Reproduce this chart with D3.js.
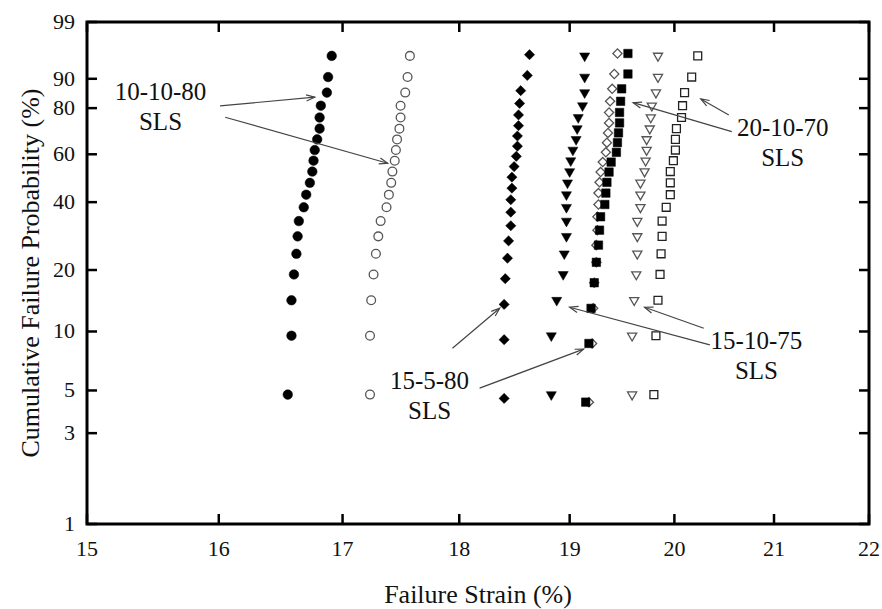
<!DOCTYPE html>
<html>
<head>
<meta charset="utf-8">
<script src="https://cdn.jsdelivr.net/npm/d3@7"></script>
<style>
  body { margin: 0; background: #fff; }
  text { font-family: "Liberation Serif", "Times New Roman", serif; fill: #111; }
</style>
</head>
<body>
<div id="chart"></div>
<script>
// Plotting positions (%) for samples of 20, 21 and 22 specimens
const probs20 = [4.76, 9.52, 14.29, 19.05, 23.81, 28.57, 33.33, 38.10, 42.86, 47.62,
                 52.38, 57.14, 61.90, 66.67, 71.43, 76.19, 80.95, 85.71, 90.48, 95.24];
const probs21 = [4.55, 9.09, 13.64, 18.18, 22.73, 27.27, 31.82, 36.36, 40.91, 45.45, 50.00,
                 54.55, 59.09, 63.64, 68.18, 72.73, 77.27, 81.82, 86.36, 90.91, 95.45];
const probs22 = [4.35, 8.70, 13.04, 17.39, 21.74, 26.09, 30.43, 34.78, 39.13, 43.48, 47.83,
                 52.17, 56.52, 60.87, 65.22, 69.57, 73.91, 78.26, 82.61, 86.96, 91.30, 95.65];

// Failure strain (%) of each specimen, sorted
const strain_10_10_80_a = [16.55, 16.58, 16.58, 16.60, 16.62, 16.63, 16.64, 16.68, 16.70, 16.73,
                           16.75, 16.76, 16.77, 16.79, 16.81, 16.81, 16.82, 16.87, 16.88, 16.91];
const strain_10_10_80_b = [17.23, 17.23, 17.24, 17.26, 17.28, 17.30, 17.32, 17.37, 17.39, 17.41,
                           17.42, 17.44, 17.45, 17.46, 17.48, 17.49, 17.49, 17.53, 17.55, 17.57];
const strain_15_5_80_a  = [18.40, 18.40, 18.40, 18.41, 18.43, 18.44, 18.46, 18.46, 18.46, 18.47, 18.47,
                           18.49, 18.51, 18.52, 18.52, 18.53, 18.53, 18.54, 18.55, 18.61, 18.63];
const strain_15_10_75_a = [18.83, 18.83, 18.88, 18.94, 18.95, 18.97, 18.97, 18.97, 18.97, 18.98,
                           19.00, 19.01, 19.03, 19.06, 19.07, 19.08, 19.12, 19.14, 19.14, 19.14];
const strain_20_10_70_a = [19.15, 19.18, 19.20, 19.23, 19.25, 19.27, 19.28, 19.29, 19.33, 19.34, 19.35,
                           19.37, 19.39, 19.44, 19.45, 19.46, 19.47, 19.47, 19.48, 19.49, 19.55, 19.55];
const strain_15_5_80_b  = [19.18, 19.21, 19.22, 19.23, 19.25, 19.25, 19.26, 19.26, 19.27, 19.27, 19.28,
                           19.29, 19.31, 19.34, 19.35, 19.36, 19.37, 19.37, 19.38, 19.40, 19.42, 19.45];
const strain_15_10_75_b = [19.59, 19.59, 19.61, 19.63, 19.64, 19.64, 19.64, 19.67, 19.67, 19.67,
                           19.71, 19.72, 19.73, 19.73, 19.76, 19.77, 19.78, 19.82, 19.84, 19.84];
const strain_20_10_70_b = [19.80, 19.82, 19.84, 19.86, 19.87, 19.88, 19.88, 19.92, 19.96, 19.96,
                           19.96, 19.99, 20.01, 20.01, 20.02, 20.07, 20.08, 20.10, 20.17, 20.23];

// Axis ticks
const xTicks = [15, 16, 17, 18, 19, 20, 21, 22];
const yTicks = [1, 3, 5, 10, 20, 40, 60, 80, 90, 99];

// Series: strain values, plotting positions, marker
const series = [
    { values: strain_10_10_80_a, probs: probs20, marker: "circle",   filled: true },
    { values: strain_10_10_80_b, probs: probs20, marker: "circle",   filled: false },
    { values: strain_15_5_80_a,  probs: probs21, marker: "diamond",  filled: true },
    { values: strain_15_10_75_a, probs: probs20, marker: "triangle", filled: true },
    { values: strain_15_5_80_b,  probs: probs22, marker: "diamond",  filled: false },
    { values: strain_20_10_70_a, probs: probs22, marker: "square",   filled: true },
    { values: strain_15_10_75_b, probs: probs20, marker: "triangle", filled: false },
    { values: strain_20_10_70_b, probs: probs20, marker: "square",   filled: false }
];

// Annotations in data units: label anchor and arrows [from, to]
const annotations = [
    { label: "10-10-80", at: [15.55, 83.1],
      arrows: [[[16.01, 80.9], [16.77, 84.1]], [[16.05, 76.3], [17.38, 56.0]]] },
    { label: "15-5-80", at: [17.74, 5.09],
      arrows: [[[17.94, 8.23], [18.36, 13.06]], [[18.18, 5.14], [19.13, 8.14]]] },
    { label: "15-10-75", at: [20.82, 8.14],
      arrows: [[[20.29, 10.38], [19.71, 13.21]], [[20.35, 8.56], [19.00, 13.21]]] },
    { label: "20-10-70", at: [21.09, 68.2],
      arrows: [[[20.54, 77.25], [20.26, 83.47]], [[20.57, 70.1], [19.60, 82.1]]] }
];

const width = 882;
const height = 609;
const plot = { left: 87, right: 869, top: 22, bottom: 524 };

const svg = d3.select("#chart")
    .append("svg")
    .attr("width", width)
    .attr("height", height);

svg.append("rect").attr("width", width).attr("height", height).attr("fill", "#fff");

// Weibull probability scale on y, log scale on x
const weib = p => Math.log(-Math.log(1 - p / 100));
const x = d3.scaleLog().domain([15, 22]).range([plot.left, plot.right]);
const yLin = d3.scaleLinear().domain([weib(1), weib(99)]).range([plot.bottom, plot.top]);
const y = p => yLin(weib(p));

// Ticks (inside, on all four sides)
const tickLen = 10;
const ticks = svg.append("g").attr("stroke", "#000").attr("stroke-width", 2.5);
yTicks.forEach(t => {
    ticks.append("line").attr("x1", plot.left).attr("x2", plot.left + tickLen)
        .attr("y1", y(t)).attr("y2", y(t));
    ticks.append("line").attr("x1", plot.right).attr("x2", plot.right - tickLen)
        .attr("y1", y(t)).attr("y2", y(t));
});
xTicks.forEach(t => {
    ticks.append("line").attr("x1", x(t)).attr("x2", x(t))
        .attr("y1", plot.bottom).attr("y2", plot.bottom - tickLen);
    ticks.append("line").attr("x1", x(t)).attr("x2", x(t))
        .attr("y1", plot.top).attr("y2", plot.top + tickLen);
});

// Tick labels
svg.selectAll(".ylab")
    .data(yTicks)
    .join("text")
    .attr("class", "ylab")
    .attr("x", plot.left - 12)
    .attr("y", d => y(d) + 7)
    .attr("text-anchor", "end")
    .attr("font-size", 22)
    .text(d => d);

svg.selectAll(".xlab")
    .data(xTicks)
    .join("text")
    .attr("class", "xlab")
    .attr("x", d => x(d))
    .attr("y", plot.bottom + 32)
    .attr("text-anchor", "middle")
    .attr("font-size", 22)
    .text(d => d);

// Axis titles
svg.append("text")
    .attr("x", (plot.left + plot.right) / 2)
    .attr("y", 603)
    .attr("text-anchor", "middle")
    .attr("font-size", 26)
    .text("Failure Strain (%)");

svg.append("text")
    .attr("transform", `translate(39, ${(plot.top + plot.bottom) / 2}) rotate(-90)`)
    .attr("text-anchor", "middle")
    .attr("font-size", 26)
    .text("Cumulative Failure Probability (%)");

// Marker shapes
const shapes = {
    circle:   { type: d3.symbolCircle,   filledSize: 72, openSize: 60, rotate: 0 },
    diamond:  { type: d3.symbolSquare,   filledSize: 52, openSize: 42, rotate: 45 },
    triangle: { type: d3.symbolTriangle, filledSize: 44, openSize: 36, rotate: 180 },
    square:   { type: d3.symbolSquare,   filledSize: 72, openSize: 62, rotate: 0 }
};

series.forEach(s => {
    const sh = shapes[s.marker];
    const sym = d3.symbol().type(sh.type).size(s.filled ? sh.filledSize : sh.openSize);
    const pts = s.values.map((v, i) => ({ v: v, p: s.probs[i] }));
    svg.append("g")
        .selectAll("path")
        .data(pts)
        .join("path")
        .attr("d", sym)
        .attr("transform", d => `translate(${x(d.v)},${y(d.p)}) rotate(${sh.rotate})`)
        .attr("fill", s.filled ? "#000" : "#fff")
        .attr("stroke", s.filled ? "#000" : (s.marker === "square" ? "#222" : "#555"))
        .attr("stroke-width", s.filled ? 0.5 : 1.3);
});

// Annotation arrows and labels
const arrowG = svg.append("g")
    .attr("stroke", "#444")
    .attr("stroke-width", 1.2)
    .attr("fill", "none");

annotations.forEach(a => {
    a.arrows.forEach(([from, to]) => {
        const x1 = x(from[0]), y1 = y(from[1]);
        const x2 = x(to[0]), y2 = y(to[1]);
        arrowG.append("line").attr("x1", x1).attr("y1", y1).attr("x2", x2).attr("y2", y2);
        const ang = Math.atan2(y2 - y1, x2 - x1);
        const head = 9, spread = 0.35;
        arrowG.append("path")
            .attr("d", `M${x2 - head * Math.cos(ang - spread)},${y2 - head * Math.sin(ang - spread)}` +
                       `L${x2},${y2}` +
                       `L${x2 - head * Math.cos(ang + spread)},${y2 - head * Math.sin(ang + spread)}`);
    });

    const t = svg.append("text")
        .attr("x", x(a.at[0]))
        .attr("y", y(a.at[1]))
        .attr("text-anchor", "middle")
        .attr("font-size", 25);
    t.append("tspan").attr("x", x(a.at[0])).text(a.label);
    t.append("tspan").attr("x", x(a.at[0])).attr("dy", 30).text("SLS");
});

// Frame
svg.append("rect")
    .attr("x", plot.left)
    .attr("y", plot.top)
    .attr("width", plot.right - plot.left)
    .attr("height", plot.bottom - plot.top)
    .attr("fill", "none")
    .attr("stroke", "#000")
    .attr("stroke-width", 3);
</script>
</body>
</html>
